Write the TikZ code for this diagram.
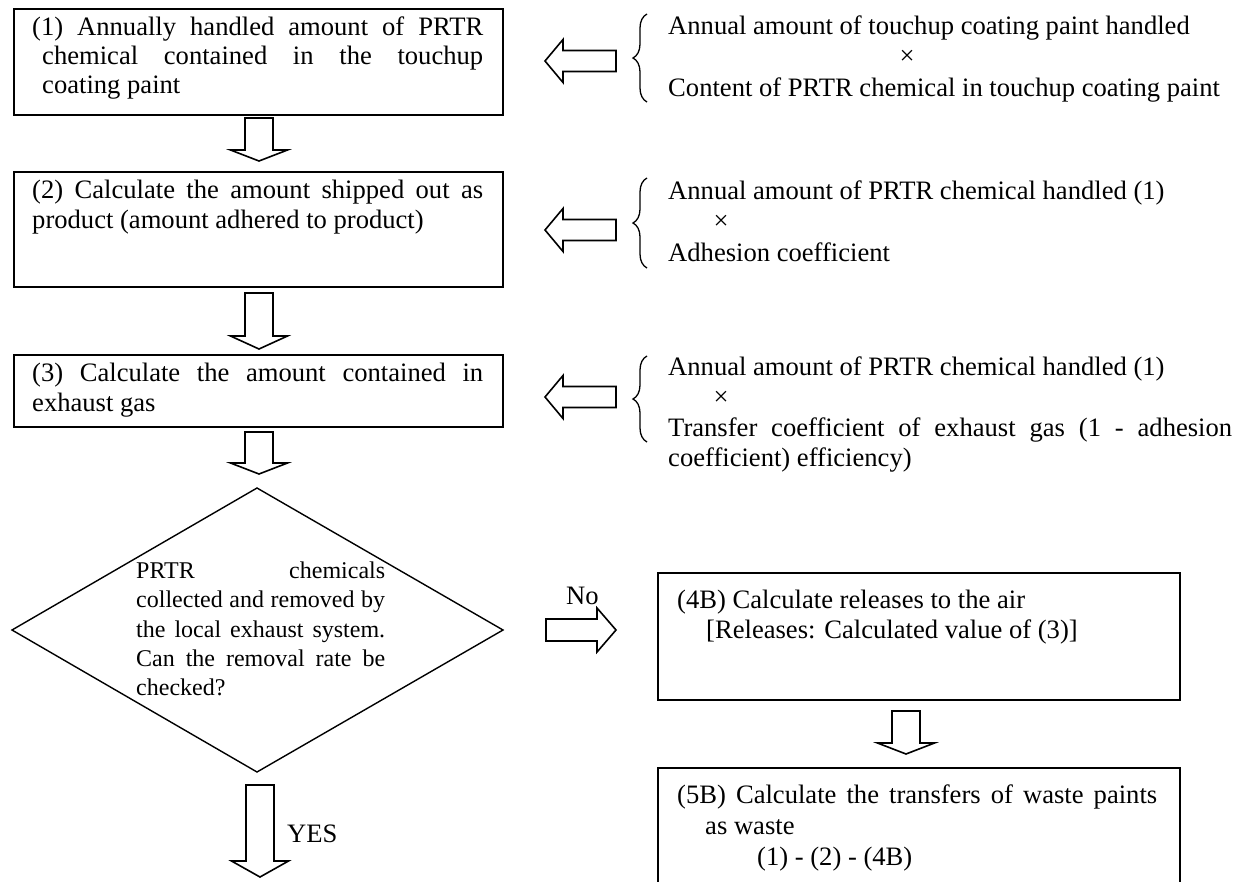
\documentclass[tikz,border=0pt]{standalone}
\usepackage{fontspec}
\setmainfont{Liberation Serif}
\usetikzlibrary{decorations.pathreplacing}

% block arrows: down (centre x, top, head base, tip), left (tip x, centre y), right (tail x, centre y)
\newcommand{\blkdown}[4]{\draw[blk] ({#1-14},#2) -- ({#1+14},#2) -- ({#1+14},#3) -- ({#1+28.5},#3) -- (#1,#4) -- ({#1-28.5},#3) -- ({#1-14},#3) -- cycle;}
\newcommand{\blkleft}[2]{\draw[blk] (#1,#2) -- ({#1+18},{#2-21.5}) -- ({#1+18},{#2-10.5}) -- ({#1+71},{#2-10.5}) -- ({#1+71},{#2+10.5}) -- ({#1+18},{#2+10.5}) -- ({#1+18},{#2+21.5}) -- cycle;}
\newcommand{\blkright}[2]{\draw[blk] (#1,{#2-11}) -- ({#1+51},{#2-11}) -- ({#1+51},{#2-22}) -- ({#1+70},#2) -- ({#1+51},{#2+22}) -- ({#1+51},{#2+11}) -- (#1,{#2+11}) -- cycle;}

\begin{document}
\begin{tikzpicture}[x=1pt,y=-1pt,
  boxline/.style={draw=black,line width=2pt,rectangle,inner sep=0pt,anchor=north west},
  txt/.style={anchor=base west,inner sep=0pt,font=\fontsize{26.6}{30}\selectfont},
  dtxt/.style={anchor=base west,inner sep=0pt,font=\fontsize{24}{29}\selectfont},
  blk/.style={draw=black,line width=1.6pt,fill=white,line join=miter},
  bracestyle/.style={draw=black,line width=1.3pt,decorate,decoration={brace,amplitude=14pt}},
  diam/.style={draw=black,line width=1.4pt,line join=miter}
]
\useasboundingbox (0,0) rectangle (1239,881);

% ---- left column boxes
\node[boxline,minimum width=489pt,minimum height=106pt] (box1) at (13,8) {};
\node[txt] (t1a) at (32,35) {\makebox[451pt][s]{(1) Annually handled amount of PRTR}};
\node[txt] (t1b) at (42,64) {\makebox[441pt][s]{chemical contained in the touchup}};
\node[txt] (t1c) at (42,93) {coating paint};

\node[boxline,minimum width=489pt,minimum height=115pt] (box2) at (13,171) {};
\node[txt] (t2a) at (32,198) {\makebox[451pt][s]{(2) Calculate the amount shipped out as}};
\node[txt] (t2b) at (32,228) {product (amount adhered to product)};

\node[boxline,minimum width=489pt,minimum height=72pt] (box3) at (13,354) {};
\node[txt] (t3a) at (32,381) {\makebox[451pt][s]{(3) Calculate the amount contained in}};
\node[txt] (t3b) at (32,411) {exhaust gas};

% ---- decision
\coordinate (dl) at (12,630);
\coordinate (dt) at (257,488);
\coordinate (dr) at (503,630);
\coordinate (db) at (257,772);
\draw[diam] (dl) -- (dt) -- (dr) -- (db) -- cycle;
\node[dtxt] (d1) at (136,578) {\makebox[249pt][s]{PRTR chemicals}};
\node[dtxt] (d2) at (136,607) {\makebox[249pt][s]{collected and removed by}};
\node[dtxt] (d3) at (136,637) {\makebox[249pt][s]{the local exhaust system.}};
\node[dtxt] (d4) at (136,666) {\makebox[249pt][s]{Can the removal rate be}};
\node[dtxt] (d5) at (136,695) {checked?};

% ---- right column boxes
\node[boxline,minimum width=522pt,minimum height=127pt] (box4) at (657,572) {};
\node[txt] (t4a) at (677,608) {(4B) Calculate releases to the air};
\node[txt] (t4b) at (706,638) {[Releases: Calculated value of (3)]};

\node[boxline,minimum width=522pt,minimum height=140pt] (box5) at (657,767) {};
\node[txt] (t5a) at (677,803) {\makebox[480pt][s]{(5B) Calculate the transfers of waste paints}};
\node[txt] (t5b) at (705,834) {as waste};
\node[txt] (t5c) at (757,865) {(1) - (2) - (4B)};

% ---- flow arrows
\blkdown{259}{118}{150}{161}
\blkdown{259}{293}{336}{349}
\blkdown{259}{432}{463}{474}
\blkdown{260}{785}{861}{877}
\blkdown{906}{711}{743}{754}
\blkright{546}{630}
\node[txt] (no) at (566,604) {No};
\node[txt] (yes) at (287,842) {YES};

% ---- input formulas
\blkleft{545}{61}
\draw[bracestyle] (647,102) -- (647,14);
\node[txt] (f1a) at (668,34) {Annual amount of touchup coating paint handled};
\node[txt,anchor=center] (f1x) at (907,57) {×};
\node[txt] (f1b) at (668,96) {Content of PRTR chemical in touchup coating paint};

\blkleft{545}{230}
\draw[bracestyle] (647,268) -- (647,178);
\node[txt] (f2a) at (668,199) {Annual amount of PRTR chemical handled (1)};
\node[txt,anchor=center] (f2x) at (721,222) {×};
\node[txt] (f2b) at (668,261) {Adhesion coefficient};

\blkleft{545}{397}
\draw[bracestyle] (647,442) -- (647,356);
\node[txt] (f3a) at (668,375) {Annual amount of PRTR chemical handled (1)};
\node[txt,anchor=center] (f3x) at (721,398) {×};
\node[txt] (f3b) at (668,436) {\makebox[564pt][s]{Transfer coefficient of exhaust gas (1 - adhesion}};
\node[txt] (f3c) at (668,466) {coefficient) efficiency)};
\end{tikzpicture}
\end{document}
